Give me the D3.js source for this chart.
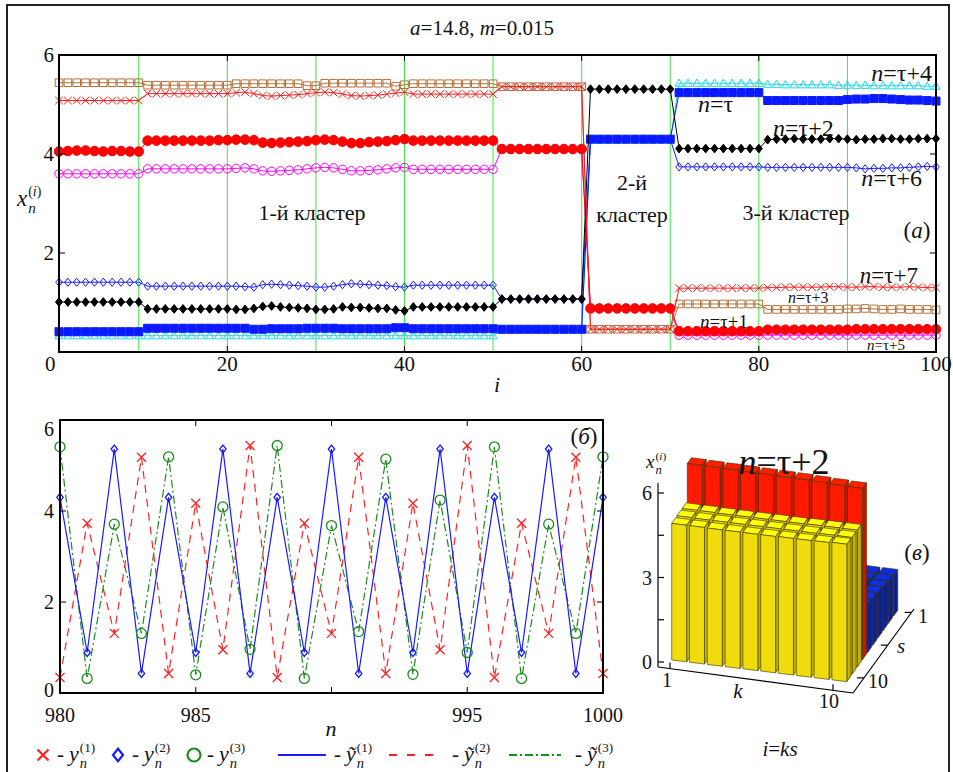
<!DOCTYPE html>
<html>
<head>
<meta charset="utf-8">
<script src="https://cdn.jsdelivr.net/npm/d3@7"></script>
<style>
body { margin: 0; background: #fff; }
svg { display: block; }
</style>
</head>
<body>
<svg id="chart" width="953" height="772"></svg>
<script>
//Datos del panel (a): x_n^(i) para n = tau ... tau+7, i = 1..100
const iIdx = d3.range(1, 101);

const xTau0 = [ // n=τ
  0.41,0.41,0.41,0.41,0.41,0.41,0.41,0.41,0.41,0.41,
  0.48,0.48,0.48,0.48,0.48,0.48,0.48,0.48,0.48,0.48,
  0.48,0.48,0.46,0.46,0.47,0.47,0.47,0.47,0.48,0.48,
  0.48,0.48,0.47,0.47,0.47,0.47,0.47,0.47,0.49,0.49,
  0.47,0.47,0.47,0.47,0.47,0.47,0.47,0.47,0.47,0.47,
  0.46,0.46,0.46,0.46,0.46,0.46,0.46,0.46,0.46,0.46,
  4.30,4.30,4.30,4.30,4.30,4.30,4.30,4.30,4.30,4.30,
  5.24,5.24,5.24,5.24,5.24,5.24,5.24,5.24,5.24,5.24,
  5.08,5.08,5.08,5.08,5.08,5.08,5.08,5.08,5.08,5.10,
  5.11,5.11,5.12,5.12,5.11,5.10,5.09,5.09,5.08,5.07];
const xTau1 = [ // n=τ+1
  4.05,4.06,4.07,4.07,4.06,4.05,4.06,4.06,4.05,4.05,
  4.27,4.27,4.27,4.27,4.27,4.27,4.27,4.27,4.28,4.28,
  4.29,4.29,4.28,4.23,4.22,4.23,4.24,4.25,4.26,4.28,
  4.29,4.28,4.25,4.22,4.22,4.24,4.25,4.26,4.28,4.30,
  4.27,4.27,4.27,4.27,4.27,4.27,4.27,4.27,4.27,4.27,
  4.10,4.10,4.10,4.10,4.10,4.10,4.10,4.10,4.10,4.10,
  0.88,0.88,0.88,0.88,0.88,0.88,0.88,0.88,0.88,0.88,
  0.42,0.42,0.42,0.42,0.42,0.42,0.42,0.42,0.42,0.42,
  0.45,0.45,0.45,0.45,0.45,0.45,0.45,0.45,0.45,0.45,
  0.46,0.46,0.46,0.46,0.46,0.46,0.46,0.46,0.46,0.46];
const xTau2 = [ // n=τ+2
  1.01,1.01,1.01,1.01,1.01,1.01,1.01,1.01,1.01,1.01,
  0.87,0.87,0.87,0.87,0.87,0.87,0.87,0.87,0.87,0.87,
  0.86,0.86,0.88,0.92,0.93,0.91,0.90,0.89,0.88,0.86,
  0.86,0.87,0.91,0.90,0.90,0.89,0.88,0.88,0.85,0.83,
  0.91,0.91,0.91,0.91,0.91,0.91,0.91,0.91,0.91,0.91,
  1.07,1.07,1.07,1.07,1.07,1.07,1.07,1.07,1.07,1.07,
  5.31,5.31,5.31,5.31,5.31,5.31,5.31,5.31,5.31,5.31,
  4.11,4.11,4.11,4.11,4.11,4.11,4.11,4.11,4.11,4.11,
  4.29,4.30,4.30,4.31,4.30,4.30,4.30,4.31,4.31,4.30,
  4.29,4.30,4.30,4.31,4.31,4.30,4.30,4.31,4.31,4.31];
const xTau3 = [ // n=τ+3
  5.44,5.44,5.44,5.44,5.44,5.44,5.44,5.44,5.44,5.44,
  5.39,5.39,5.39,5.39,5.39,5.39,5.39,5.39,5.39,5.39,
  5.42,5.42,5.42,5.42,5.42,5.42,5.42,5.42,5.38,5.38,
  5.43,5.43,5.43,5.43,5.43,5.43,5.43,5.43,5.37,5.40,
  5.42,5.42,5.42,5.42,5.42,5.42,5.42,5.42,5.42,5.42,
  5.36,5.36,5.36,5.36,5.36,5.36,5.36,5.36,5.36,5.36,
  0.46,0.46,0.46,0.46,0.46,0.46,0.46,0.46,0.46,0.46,
  0.97,0.97,0.97,0.97,0.97,0.97,0.97,0.97,0.97,0.97,
  0.86,0.86,0.86,0.86,0.86,0.86,0.86,0.86,0.86,0.87,
  0.87,0.88,0.87,0.86,0.86,0.87,0.86,0.86,0.86,0.85];
const xTau4 = [ // n=τ+4
  0.33,0.33,0.33,0.33,0.33,0.33,0.33,0.33,0.33,0.33,
  0.33,0.33,0.33,0.33,0.33,0.33,0.33,0.33,0.33,0.33,
  0.33,0.33,0.33,0.33,0.33,0.33,0.33,0.33,0.33,0.33,
  0.33,0.33,0.33,0.33,0.33,0.33,0.33,0.33,0.33,0.33,
  0.33,0.33,0.33,0.33,0.33,0.33,0.33,0.33,0.33,0.33,
  0.44,0.44,0.44,0.44,0.44,0.44,0.44,0.44,0.44,0.44,
  4.28,4.28,4.28,4.28,4.28,4.28,4.28,4.28,4.28,4.28,
  5.43,5.43,5.43,5.43,5.43,5.43,5.43,5.43,5.43,5.43,
  5.41,5.41,5.40,5.40,5.40,5.40,5.40,5.40,5.39,5.39,
  5.39,5.39,5.38,5.38,5.38,5.38,5.38,5.38,5.37,5.37];
const xTau5 = [ // n=τ+5
  3.60,3.60,3.60,3.60,3.60,3.60,3.60,3.60,3.60,3.60,
  3.70,3.70,3.70,3.70,3.70,3.70,3.70,3.70,3.70,3.70,
  3.71,3.72,3.70,3.66,3.65,3.66,3.67,3.68,3.70,3.72,
  3.73,3.72,3.69,3.66,3.66,3.67,3.68,3.70,3.72,3.73,
  3.69,3.69,3.69,3.69,3.69,3.69,3.69,3.69,3.69,3.69,
  4.10,4.10,4.10,4.10,4.10,4.10,4.10,4.10,4.10,4.10,
  0.88,0.88,0.88,0.88,0.88,0.88,0.88,0.88,0.88,0.88,
  0.34,0.34,0.34,0.34,0.34,0.34,0.34,0.34,0.34,0.34,
  0.34,0.34,0.34,0.34,0.34,0.34,0.34,0.34,0.34,0.34,
  0.34,0.34,0.34,0.34,0.34,0.34,0.34,0.34,0.34,0.34];
const xTau6 = [ // n=τ+6
  1.41,1.41,1.41,1.41,1.41,1.41,1.41,1.41,1.41,1.41,
  1.33,1.33,1.33,1.33,1.33,1.33,1.33,1.33,1.33,1.33,
  1.33,1.32,1.31,1.36,1.37,1.36,1.35,1.34,1.33,1.31,
  1.31,1.33,1.36,1.38,1.37,1.36,1.35,1.34,1.32,1.31,
  1.35,1.35,1.35,1.35,1.35,1.35,1.35,1.35,1.35,1.35,
  1.07,1.07,1.07,1.07,1.07,1.07,1.07,1.07,1.07,1.07,
  4.30,4.30,4.30,4.30,4.30,4.30,4.30,4.30,4.30,4.30,
  3.74,3.74,3.74,3.74,3.74,3.74,3.74,3.74,3.74,3.74,
  3.73,3.73,3.73,3.73,3.73,3.73,3.73,3.73,3.73,3.73,
  3.72,3.70,3.71,3.71,3.72,3.72,3.73,3.74,3.75,3.74];
const xTau7 = [ // n=τ+7
  5.08,5.08,5.08,5.08,5.08,5.08,5.08,5.08,5.08,5.08,
  5.22,5.22,5.22,5.22,5.22,5.22,5.22,5.22,5.22,5.22,
  5.24,5.25,5.22,5.18,5.17,5.18,5.19,5.20,5.22,5.24,
  5.25,5.24,5.21,5.18,5.17,5.18,5.19,5.21,5.23,5.25,
  5.21,5.21,5.21,5.21,5.21,5.21,5.21,5.21,5.21,5.21,
  5.36,5.36,5.36,5.36,5.36,5.36,5.36,5.36,5.36,5.36,
  0.46,0.46,0.46,0.46,0.46,0.46,0.46,0.46,0.46,0.46,
  1.29,1.29,1.29,1.29,1.29,1.29,1.29,1.29,1.29,1.29,
  1.30,1.30,1.31,1.31,1.31,1.31,1.31,1.32,1.32,1.31,
  1.31,1.32,1.32,1.31,1.31,1.31,1.32,1.31,1.30,1.30];

const greenLinesI = [10, 20, 30, 40, 50, 60, 70, 80, 90];
const topXTicks = [0, 20, 40, 60, 80, 100];
const topYTicks = [2, 4, 6];

//Datos del panel (б)
const nIdx = d3.range(980, 1001);
const y1 = [0.34,3.73,1.31,5.18,0.43,4.17,0.95,5.44,0.34,3.73,1.31,5.18,0.43,4.17,0.95,5.44,0.34,3.73,1.31,5.18,0.43];
const y2 = [4.30,0.89,5.36,0.43,4.30,0.89,5.36,0.43,4.30,0.89,5.36,0.43,4.30,0.89,5.36,0.43,4.30,0.89,5.36,0.43,4.30];
const y3 = [5.41,0.32,3.71,1.31,5.19,0.40,4.09,0.96,5.44,0.32,3.68,1.35,5.14,0.41,4.24,0.89,5.41,0.32,3.71,1.31,5.19];
const botXTicks = [980, 985, 995, 1000];
const botXMarks = [985, 990, 995];
const botYTicks = [0, 2, 4, 6];

//Datos del panel (в): filas s = 1..10, columnas k = 1..10
const barK = [1, 2, 3, 4, 5, 6, 7, 8, 9, 10];
const barS = [1, 2, 3, 4, 5, 6, 7, 8, 9, 10];
const barRows = [
  [1.45,1.45,1.45,1.45,1.45,1.45,1.45,1.45,1.45,1.45],
  [1.50,1.50,1.50,1.50,1.50,1.50,1.50,1.50,1.50,1.50],
  [1.55,1.55,1.55,1.55,1.55,1.55,1.55,1.55,1.55,1.55],
  [1.60,1.60,1.60,1.60,1.60,1.60,1.60,1.60,1.60,1.60],
  [1.65,1.65,1.65,1.65,1.65,1.65,1.65,1.65,1.65,1.65],
  [1.70,1.70,1.70,1.70,1.70,1.70,1.70,1.70,1.70,1.70],
  [6.20,6.19,6.18,6.17,6.16,6.15,6.14,6.12,6.10,6.08],
  [4.86,4.86,4.85,4.85,4.85,4.85,4.85,4.86,4.86,4.86],
  [4.86,4.85,4.85,4.85,4.85,4.85,4.85,4.85,4.86,4.86],
  [4.85,4.85,4.84,4.84,4.84,4.84,4.85,4.85,4.86,4.88]];
const barZTicks = [0, 3, 6];
const barZMinor = [1.5, 4.5];

const FONT = "'Liberation Serif', 'DejaVu Serif', 'Noto Serif', serif";
const svg = d3.select('#chart').style('font-family', FONT);

//Marco exterior
svg.append('rect').attr('x', 7).attr('y', 5).attr('width', 942).attr('height', 768)
  .attr('fill', 'none').attr('stroke', '#222').attr('stroke-width', 2);

//Texto con partes en cursiva
function rich(g, x, y, parts, size, anchor) {
  const t = g.append('text').attr('x', x).attr('y', y)
    .style('font-family', FONT).style('font-size', size + 'px').attr('fill', '#111')
    .attr('text-anchor', anchor || 'start');
  parts.forEach(function(p) {
    t.append('tspan').style('font-style', p[1] ? 'italic' : 'normal').text(p[0]);
  });
  return t;
}
function plain(g, x, y, str, size, anchor, italic) {
  return g.append('text').attr('x', x).attr('y', y)
    .style('font-family', FONT).style('font-size', size + 'px').attr('fill', '#111')
    .style('font-style', italic ? 'italic' : 'normal')
    .attr('text-anchor', anchor || 'start').text(str);
}

//Letra con subíndice y superíndice apilados: x_n^(i)
function scripted(g, x, y, base, sup, sub, size) {
  const b = plain(g, x, y, base, size, 'start', true);
  const w = b.node().getComputedTextLength();
  const s1 = rich(g, x + w + 1, y - size * 0.42, [['(', 0], [sup, sup === 'i'], [')', 0]], size * 0.6);
  const s2 = plain(g, x + w + 1, y + size * 0.3, sub, size * 0.66, 'start', true);
  return x + w + 1 + Math.max(s1.node().getComputedTextLength(), s2.node().getComputedTextLength());
}

//Formas de marcadores
function shape(type, s) {
  if (type === 'square') return 'M' + (-s) + ',' + (-s) + 'h' + 2 * s + 'v' + 2 * s + 'h' + (-2 * s) + 'Z';
  if (type === 'diamond') return 'M0,' + (-s * 1.25) + 'L' + s + ',0L0,' + (s * 1.25) + 'L' + (-s) + ',0Z';
  if (type === 'triangle') return 'M0,' + (-s) + 'L' + (s * 0.95) + ',' + (s * 0.75) + 'L' + (-s * 0.95) + ',' + (s * 0.75) + 'Z';
  if (type === 'x') return 'M' + (-s) + ',' + (-s) + 'L' + s + ',' + s + 'M' + (-s) + ',' + s + 'L' + s + ',' + (-s);
  return d3.arc()({ innerRadius: 0, outerRadius: s, startAngle: 0, endAngle: 2 * Math.PI });
}

/////
// Panel (a)
/////
const gA = svg.append('g');
const xT = d3.scaleLinear().domain([1, 100]).range([59, 936]);
const yT = d3.scaleLinear().domain([0, 6]).range([352, 55]);

rich(gA, 482, 35, [['a', 1], ['=14.8, ', 0], ['m', 1], ['=0.015', 0]], 21, 'middle');

gA.selectAll('.green').data(greenLinesI).join('line')
  .attr('x1', d => xT(d)).attr('x2', d => xT(d)).attr('y1', yT(6)).attr('y2', yT(0))
  .attr('stroke', '#3be83b').attr('stroke-width', 1);

const topSeries = [
  { vals: xTau4, color: '#1fd8ea', type: 'triangle', size: 4.2, filled: false },
  { vals: xTau5, color: '#ff00ff', type: 'circle', size: 4.2, filled: false },
  { vals: xTau6, color: '#1a1aff', type: 'diamond', size: 3.3, filled: false },
  { vals: xTau3, color: '#b3703a', type: 'square', size: 3.8, filled: false },
  { vals: xTau0, color: '#0a1aff', type: 'square', size: 4, filled: true },
  { vals: xTau1, color: '#ff0000', type: 'circle', size: 4.8, filled: true },
  { vals: xTau2, color: '#000000', type: 'diamond', size: 3.5, filled: true },
  { vals: xTau7, color: '#ff1a1a', type: 'x', size: 3.8, filled: false }
];
const lineTop = d3.line().x((d, i) => xT(iIdx[i])).y(d => yT(d));

topSeries.forEach(function(s) {
  gA.append('path').datum(s.vals).attr('d', lineTop)
    .attr('fill', 'none').attr('stroke', s.color).attr('stroke-width', 1);
  gA.append('g').selectAll('path').data(s.vals).join('path')
    .attr('transform', (d, i) => 'translate(' + xT(iIdx[i]) + ',' + yT(d) + ')')
    .attr('d', shape(s.type, s.size))
    .attr('fill', s.filled ? s.color : 'none')
    .attr('stroke', s.color).attr('stroke-width', 1);
});

//Ejes del panel (a)
gA.append('rect').attr('x', xT(1)).attr('y', yT(6)).attr('width', xT(100) - xT(1)).attr('height', yT(0) - yT(6))
  .attr('fill', 'none').attr('stroke', '#000').attr('stroke-width', 2);
topXTicks.filter(d => d > 1 && d < 100).forEach(function(d) {
  gA.append('line').attr('x1', xT(d)).attr('x2', xT(d)).attr('y1', yT(0)).attr('y2', yT(0) - 6).attr('stroke', '#000');
  gA.append('line').attr('x1', xT(d)).attr('x2', xT(d)).attr('y1', yT(6)).attr('y2', yT(6) + 6).attr('stroke', '#000');
});
topYTicks.filter(d => d < 6).forEach(function(d) {
  gA.append('line').attr('x1', xT(1)).attr('x2', xT(1) + 6).attr('y1', yT(d)).attr('y2', yT(d)).attr('stroke', '#000');
  gA.append('line').attr('x1', xT(100)).attr('x2', xT(100) - 6).attr('y1', yT(d)).attr('y2', yT(d)).attr('stroke', '#000');
});
topXTicks.forEach(d => plain(gA, xT(d), 371, d, 21, 'middle'));
topYTicks.forEach(d => plain(gA, 54, yT(d) + 7, d, 21, 'end'));
plain(gA, 497, 392, 'i', 22, 'middle', true);
scripted(gA, 17, 206, 'x', 'i', 'n', 23);

//Rótulos del panel (a)
plain(gA, 312, 220, '1-й кластер', 22, 'middle');
plain(gA, 632, 190, '2-й', 22, 'middle');
plain(gA, 632, 222, 'кластер', 22, 'middle');
plain(gA, 796, 220, '3-й кластер', 22, 'middle');
rich(gA, 917, 238, [['(', 0], ['a', 1], [')', 0]], 23, 'middle');
rich(gA, 932, 81, [['n', 1], ['=τ+4', 0]], 24, 'end');
rich(gA, 698, 112, [['n', 1], ['=τ', 0]], 24, 'start');
rich(gA, 773, 136, [['n', 1], ['=τ+2', 0]], 24, 'start');
rich(gA, 922, 186, [['n', 1], ['=τ+6', 0]], 24, 'end');
rich(gA, 918, 283, [['n', 1], ['=τ+7', 0]], 23, 'end');
rich(gA, 788, 303, [['n', 1], ['=τ+3', 0]], 16, 'start');
rich(gA, 700, 328, [['n', 1], ['=τ+1', 0]], 19, 'start');
rich(gA, 867, 350, [['n', 1], ['=τ+5', 0]], 15, 'start');

/////
// Panel (б)
/////
const gB = svg.append('g');
const xB = d3.scaleLinear().domain([980, 1000]).range([60, 603]);
const yB = d3.scaleLinear().domain([0, 6]).range([693, 420]);

const botSeries = [
  { vals: y3, color: '#1a8c1a', dash: '8,3,2,3', type: 'circle', size: 5 },
  { vals: y1, color: '#ff2020', dash: '8,6', type: 'x', size: 4.5 },
  { vals: y2, color: '#1a1aff', dash: null, type: 'diamond', size: 3.2 }
];
const lineBot = d3.line().x((d, i) => xB(nIdx[i])).y(d => yB(d));
botSeries.forEach(function(s) {
  gB.append('path').datum(s.vals).attr('d', lineBot)
    .attr('fill', 'none').attr('stroke', s.color).attr('stroke-width', 1.2)
    .attr('stroke-dasharray', s.dash);
});
botSeries.forEach(function(s) {
  gB.append('g').selectAll('path').data(s.vals).join('path')
    .attr('transform', (d, i) => 'translate(' + xB(nIdx[i]) + ',' + yB(d) + ')')
    .attr('d', shape(s.type, s.size))
    .attr('fill', 'none').attr('stroke', s.color).attr('stroke-width', 1.3);
});

gB.append('rect').attr('x', xB(980)).attr('y', yB(6)).attr('width', xB(1000) - xB(980)).attr('height', yB(0) - yB(6))
  .attr('fill', 'none').attr('stroke', '#000').attr('stroke-width', 2);
botXMarks.forEach(function(d) {
  gB.append('line').attr('x1', xB(d)).attr('x2', xB(d)).attr('y1', yB(0)).attr('y2', yB(0) - 6).attr('stroke', '#000');
  gB.append('line').attr('x1', xB(d)).attr('x2', xB(d)).attr('y1', yB(6)).attr('y2', yB(6) + 6).attr('stroke', '#000');
});
botYTicks.filter(d => d > 0 && d < 6).forEach(function(d) {
  gB.append('line').attr('x1', xB(980)).attr('x2', xB(980) + 6).attr('y1', yB(d)).attr('y2', yB(d)).attr('stroke', '#000');
  gB.append('line').attr('x1', xB(1000)).attr('x2', xB(1000) - 6).attr('y1', yB(d)).attr('y2', yB(d)).attr('stroke', '#000');
});
botXTicks.forEach(d => plain(gB, xB(d), 722, d, 20, 'middle'));
botYTicks.forEach(d => plain(gB, 54, yB(d) + (d === 6 ? 16 : (d === 0 ? 4 : 7)), d, 20, 'end'));
plain(gB, 331, 736, 'n', 22, 'middle', true);
rich(gB, 584, 444, [['(', 0], ['б', 1], [')', 0]], 23, 'middle');

//Leyenda
const gL = svg.append('g');
const legY = 755;
const legItems = [
  { mark: 'x', color: '#ff2020', x: 43, tx: 57, base: 'y', sup: '1' },
  { mark: 'diamond', color: '#1a1aff', x: 118, tx: 132, base: 'y', sup: '2' },
  { mark: 'circle', color: '#1a8c1a', x: 194, tx: 207, base: 'y', sup: '3' },
  { line: null, color: '#1a1aff', x: 278, x2: 326, tx: 334, base: 'ỹ', sup: '1' },
  { line: '8,10', color: '#ff2020', x: 389, x2: 442, tx: 452, base: 'ỹ', sup: '2' },
  { line: '8,3,2,3', color: '#1a8c1a', x: 509, x2: 561, tx: 575, base: 'ỹ', sup: '3' }
];
legItems.forEach(function(it) {
  if (it.mark) {
    const sz = it.mark === 'x' ? 5.5 : (it.mark === 'diamond' ? 5 : 6.5);
    gL.append('path').attr('transform', 'translate(' + it.x + ',' + legY + ')')
      .attr('d', shape(it.mark, sz)).attr('fill', 'none').attr('stroke', it.color).attr('stroke-width', 2.2);
  } else {
    gL.append('line').attr('x1', it.x).attr('x2', it.x2).attr('y1', legY).attr('y2', legY)
      .attr('stroke', it.color).attr('stroke-width', 2.2).attr('stroke-dasharray', it.line);
  }
  plain(gL, it.tx, legY + 6, '-', 21, 'start');
  scripted(gL, it.tx + 12, legY + 6, it.base, it.sup, 'n', 22);
});

/////
// Panel (в): barras en perspectiva
/////
const gC = svg.append('g');
const O3 = [671.7, 660], kStep = [17.8, 2.2], sStep = [5.2, -7.3];
const zPx = d3.scaleLinear().domain([0, 6]).range([0, 169]);
const zAxis = d3.scaleLinear().domain([0, 6]).range([662, 493]);
const barColor = d3.scaleThreshold().domain([2.5, 5.5]).range(['#0a28c4', '#eedc0c', '#ff1a00']);

function P(k, depth, z) {
  return [O3[0] + (k - 1) * kStep[0] + depth * sStep[0], O3[1] + (k - 1) * kStep[1] + depth * sStep[1] - zPx(z)];
}
const bw = 0.84, bd = 0.78;
barS.forEach(function(s) {
  barK.forEach(function(k) {
    const h = barRows[s - 1][k - 1];
    const d0 = 10 - s;
    const c = d3.color(barColor(h));
    const faces = [
      { pts: [P(k, d0, h), P(k + bw, d0, h), P(k + bw, d0 + bd, h), P(k, d0 + bd, h)], fill: c.brighter(0.45) },
      { pts: [P(k + bw, d0, 0), P(k + bw, d0 + bd, 0), P(k + bw, d0 + bd, h), P(k + bw, d0, h)], fill: c.darker(0.6) },
      { pts: [P(k, d0, 0), P(k + bw, d0, 0), P(k + bw, d0, h), P(k, d0, h)], fill: c }
    ];
    faces.forEach(function(f) {
      gC.append('path').attr('d', 'M' + f.pts.join('L') + 'Z')
        .attr('fill', f.fill).attr('stroke', '#3a3000').attr('stroke-width', 0.6).attr('stroke-linejoin', 'round');
    });
  });
});

//Ejes del panel (в)
gC.append('line').attr('x1', 658).attr('y1', 667).attr('x2', 658).attr('y2', 483).attr('stroke', '#000').attr('stroke-width', 1.2);
barZTicks.concat(barZMinor).forEach(function(z) {
  gC.append('line').attr('x1', 658).attr('x2', 664).attr('y1', zAxis(z)).attr('y2', zAxis(z)).attr('stroke', '#000').attr('stroke-width', 1.2);
});
barZTicks.forEach(d => plain(gC, 652, zAxis(d) + 7, d, 20, 'end'));

const kA = [658, 667], kB = [853, 693], sC = [914, 609];
gC.append('line').attr('x1', kA[0]).attr('y1', kA[1]).attr('x2', kB[0]).attr('y2', kB[1]).attr('stroke', '#000').attr('stroke-width', 1.2);
gC.append('line').attr('x1', kB[0]).attr('y1', kB[1]).attr('x2', sC[0]).attr('y2', sC[1]).attr('stroke', '#000').attr('stroke-width', 1.2);
const kTickX = d3.scaleLinear().domain([1, 10]).range([670, 833]);
[1, 10].forEach(function(k) {
  const x = kTickX(k), y = kA[1] + (x - kA[0]) * (kB[1] - kA[1]) / (kB[0] - kA[0]);
  gC.append('line').attr('x1', x).attr('x2', x).attr('y1', y).attr('y2', y - 6).attr('stroke', '#000').attr('stroke-width', 1.2);
});
plain(gC, 667, 687, '1', 20, 'middle');
plain(gC, 829, 708, '10', 20, 'middle');
plain(gC, 738, 698, 'k', 21, 'middle', true);
const sT = d3.scaleLinear().domain([10, 1]).range([0.18, 0.96]);
[10, 5.5, 1].forEach(function(s) {
  const t = sT(s), x = kB[0] + t * (sC[0] - kB[0]), y = kB[1] + t * (sC[1] - kB[1]);
  gC.append('line').attr('x1', x).attr('x2', x - 7).attr('y1', y).attr('y2', y).attr('stroke', '#000').attr('stroke-width', 1.2);
});
plain(gC, 918, 623, '1', 20, 'start');
plain(gC, 897, 653, 's', 21, 'start', true);
plain(gC, 868, 688, '10', 20, 'start');

scripted(gC, 646, 468, 'x', 'i', 'n', 19);
rich(gC, 784, 474, [['n', 1], ['=τ+2', 0]], 36, 'middle');
rich(gC, 917, 560, [['(', 0], ['в', 1], [')', 0]], 23, 'middle');
rich(gC, 780, 756, [['i', 1], ['=', 0], ['ks', 1]], 21, 'middle');
</script>
</body>
</html>
